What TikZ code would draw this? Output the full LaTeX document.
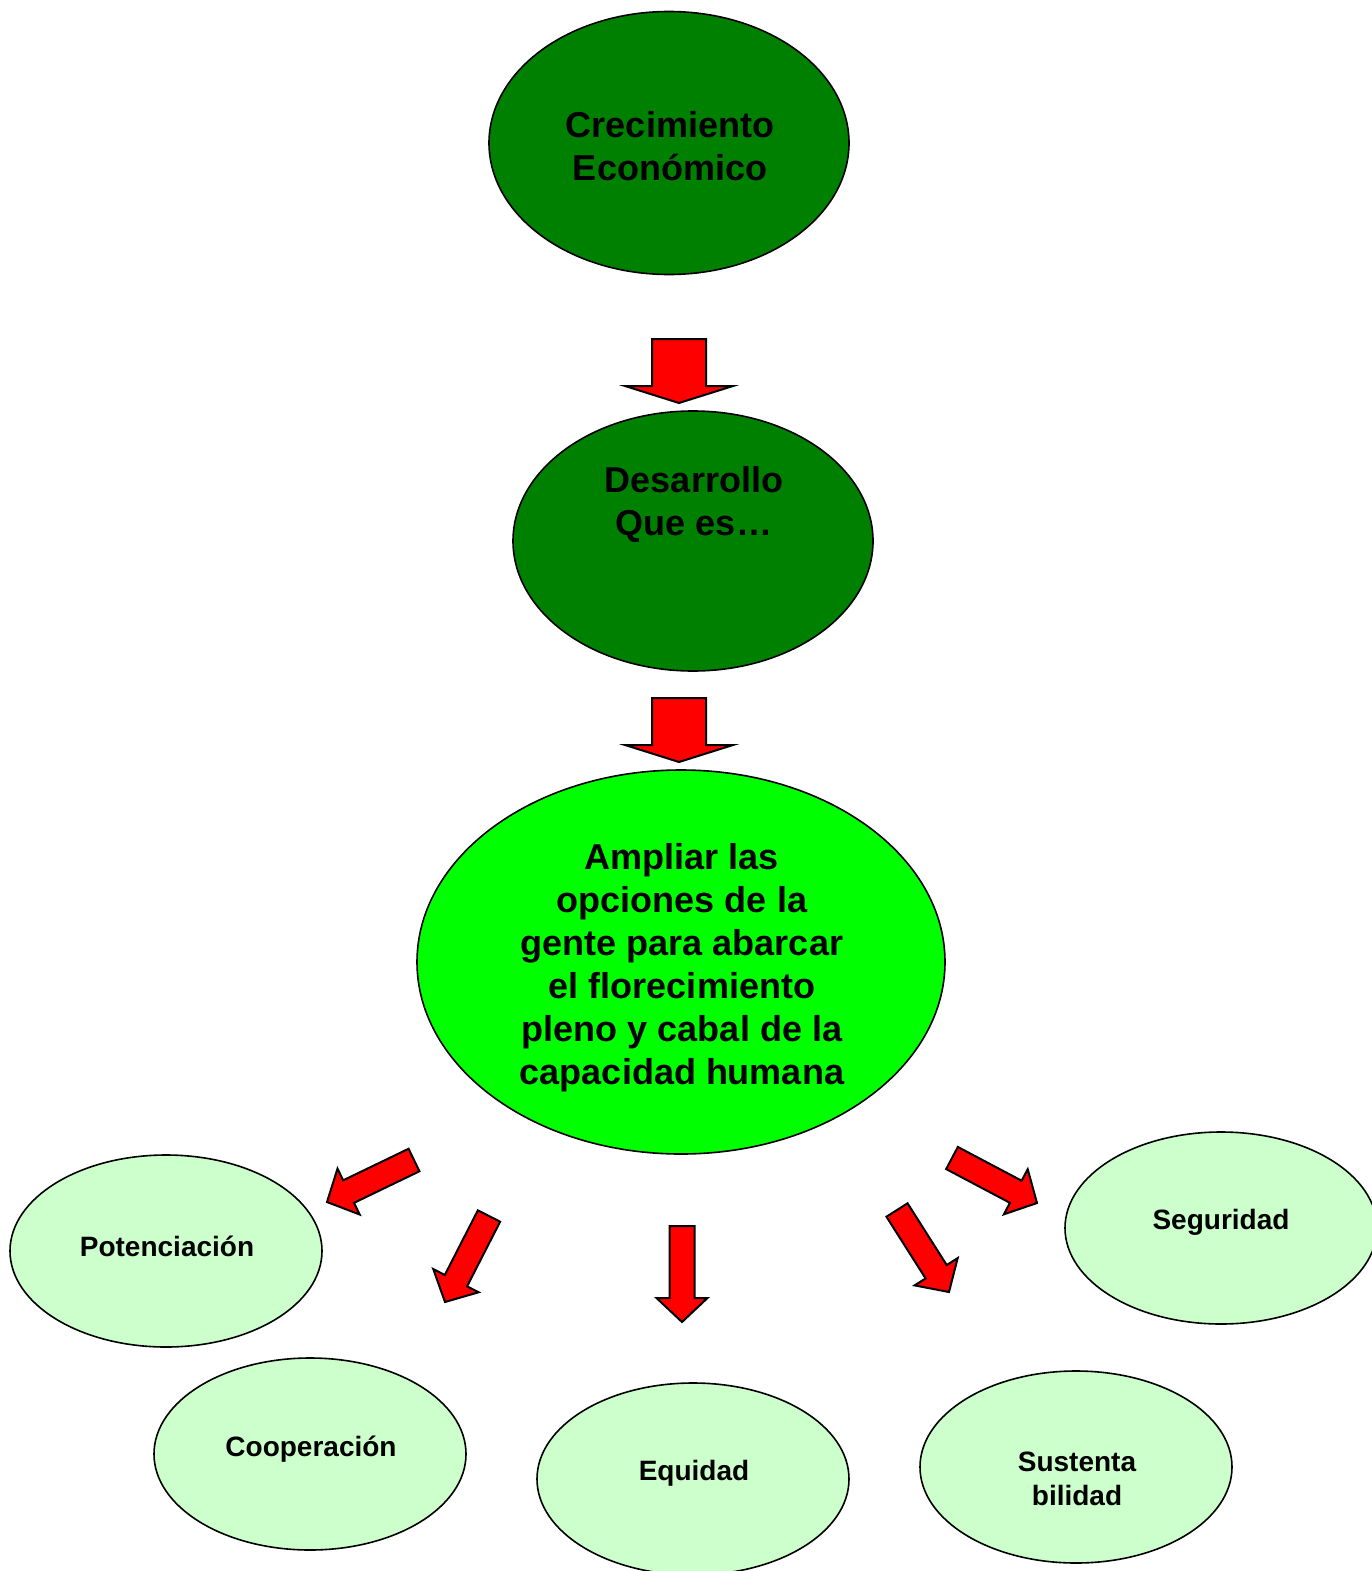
\documentclass[tikz,border=0pt]{standalone}
\usepackage{fontspec}
\setmainfont{Liberation Sans}
\usetikzlibrary{shapes.geometric,calc}
\definecolor{darkg}{RGB}{0,128,0}
\definecolor{brightg}{RGB}{0,255,0}
\definecolor{paleg}{RGB}{204,255,204}
\definecolor{redarrow}{RGB}{255,0,0}
\tikzset{
  bigell/.style={ellipse,draw=black,line width=1.6pt,inner sep=0pt,align=center},
  bigfont/.style={font=\fontsize{36}{43}\selectfont\bfseries},
  smallell/.style={ellipse,draw=black,line width=1.6pt,fill=paleg,inner sep=0pt,
    minimum width=312pt,minimum height=192pt},
  txt/.style={inner sep=0pt,align=center},
  smallfont/.style={font=\fontsize{28}{34}\selectfont\bfseries},
  blockarrow/.style={draw=black,line width=2pt,fill=redarrow,line join=miter}
}
% #1 tail, #2 tip, #3 shaft half width, #4 head half width, #5 head length
\newcommand\blockarr[5]{%
  \coordinate (bb) at ($(#2)!#5!(#1)$);
  \draw[blockarrow]
    ($(#1)!#3!90:(#2)$) -- ($(bb)!#3!-90:(#1)$) -- ($(bb)!#4!-90:(#1)$) -- (#2)
    -- ($(bb)!#4!90:(#1)$) -- ($(bb)!#3!90:(#1)$) -- ($(#1)!#3!-90:(#2)$) -- cycle;
}
\begin{document}
\begin{tikzpicture}[x=1pt,y=-1pt]
\useasboundingbox (0,0) rectangle (1371,1571);
\fill[white] (0,0) rectangle (1371,1571);

\node[bigell,fill=darkg,minimum width=360pt,minimum height=263pt] (crec) at (669,143) {};
\node[txt,bigfont] (crectxt) at (670,146) {Crecimiento\\Económico};
\node[bigell,fill=darkg,minimum width=360pt,minimum height=260pt] (des) at (693,541) {};
\node[txt,bigfont] (destxt) at (694,504) {Desarrollo\\Que es…};
\node[bigell,fill=brightg,minimum width=528pt,minimum height=384pt] (amp) at (681,962) {};
\node[txt,bigfont] (amptxt) at (682,968)
  {Ampliar las\\opciones de la\\gente para abarcar\\el florecimiento\\pleno y cabal de la\\capacidad humana};

\node[smallell] (pot) at (166,1251) {};
\node[txt,smallfont] (pottxt) at (167,1246) {Potenciación};
\node[smallell] (coop) at (310,1454) {};
\node[txt,smallfont] (cooptxt) at (311,1449) {Cooperación};
\node[smallell] (equ) at (693,1479) {};
\node[txt,smallfont] (equtxt) at (694,1473) {Equidad};
\node[smallell] (sus) at (1076,1467) {};
\node[txt,smallfont] (sustxt) at (1077,1479) {Sustenta\\bilidad};
\node[smallell] (seg) at (1221,1228) {};
\node[txt,smallfont] (segtxt) at (1221,1222) {Seguridad};

% big down arrows
\coordinate (a1t) at (679,339); \coordinate (a1h) at (679,403);
\blockarr{a1t}{a1h}{27pt}{54pt}{17pt}
\coordinate (a2t) at (679,698); \coordinate (a2h) at (679,762);
\blockarr{a2t}{a2h}{27pt}{54pt}{17pt}

% small arrows
\coordinate (a3t) at (682,1226); \coordinate (a3h) at (682,1322);
\blockarr{a3t}{a3h}{12.5pt}{25.5pt}{24pt}
\coordinate (a4t) at (414,1160); \coordinate (a4h) at (327,1202);
\blockarr{a4t}{a4h}{12.5pt}{25.5pt}{24pt}
\coordinate (a5t) at (489,1216); \coordinate (a5h) at (445,1302);
\blockarr{a5t}{a5h}{12.5pt}{25.5pt}{24pt}
\coordinate (a6t) at (952,1158); \coordinate (a6h) at (1037,1203);
\blockarr{a6t}{a6h}{12.5pt}{25.5pt}{24pt}
\coordinate (a7t) at (897,1210); \coordinate (a7h) at (949,1292);
\blockarr{a7t}{a7h}{12.5pt}{25.5pt}{24pt}
\end{tikzpicture}
\end{document}
